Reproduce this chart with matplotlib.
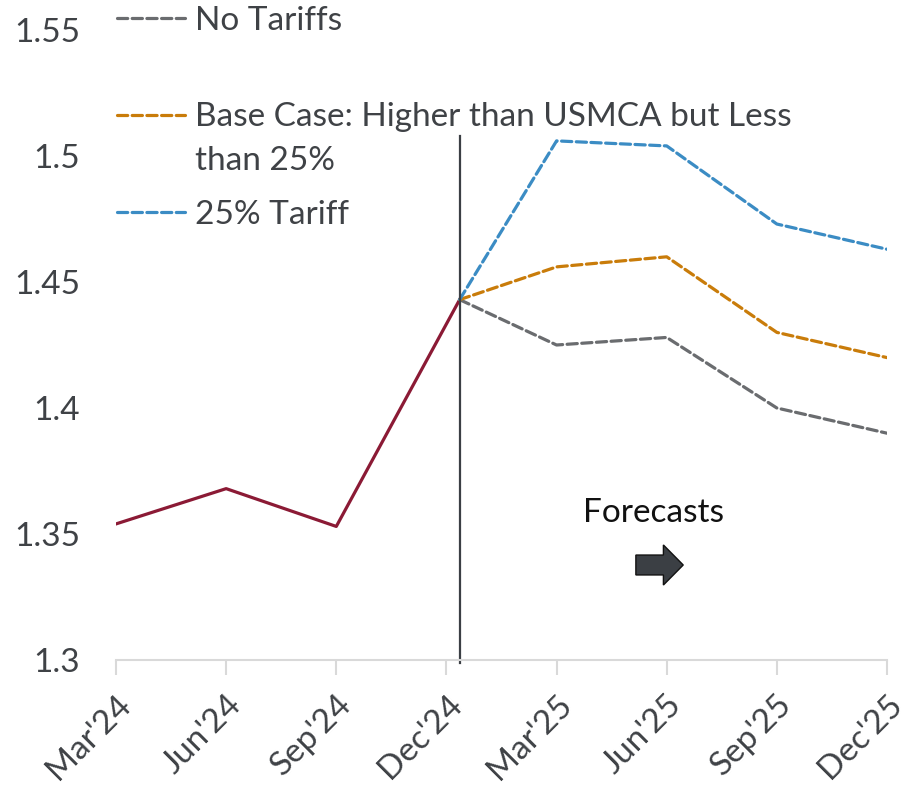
import matplotlib
matplotlib.use("Agg")
import matplotlib.pyplot as plt
import matplotlib.transforms as mtransforms
from matplotlib.patches import FancyArrow


quarters = ["Mar'24", "Jun'24", "Sep'24", "Dec'24", "Mar'25", "Jun'25", "Sep'25", "Dec'25"]
# Dec'24 sits a touch right of its tick in the original chart
quarter_pos = [0, 1, 2, 3.12, 4, 5, 6, 7]

actual = [1.354, 1.368, 1.353, 1.443]
no_tariffs = [1.443, 1.425, 1.428, 1.400, 1.390]
base_case = [1.443, 1.456, 1.460, 1.430, 1.420]
tariff_25 = [1.443, 1.506, 1.504, 1.473, 1.463]

y_ticks = [1.3, 1.35, 1.4, 1.45, 1.5, 1.55]
y_tick_labels = ["1.3", "1.35", "1.4", "1.45", "1.5", "1.55"]

scenario_labels = ["No Tariffs", "Base Case: Higher than USMCA but Less\nthan 25%", "25% Tariff"]

text_color = "#3f4246"
red = "#8b1a35"
grey = "#6a6c6f"
orange = "#c97c0a"
blue = "#3b8cc4"
scenario_colors = [grey, orange, blue]

plt.rcParams["font.family"] = ["Lato", "DejaVu Sans"]
FS = 24

W, H = 909, 793
fig = plt.figure(figsize=(W / 100, H / 100), dpi=100)
ax = fig.add_axes([116 / W, 1 - 660 / H, (887 - 116) / W, (660 - 30) / H])

dash = (3.2, 1.4)
ax.plot(quarter_pos[:4], actual, color=red, lw=2.3)
for vals, col in zip([no_tariffs, base_case, tariff_25], scenario_colors):
    ax.plot(quarter_pos[3:], vals, color=col, lw=2.3, dashes=dash, dash_capstyle="round")

# forecast divider
ax.plot([quarter_pos[3], quarter_pos[3]], [1.299, 1.508], color="#3b3f44", lw=1.6, clip_on=False)

ax.text(4.876, 1.3548, "Forecasts", fontsize=FS, color="#111111", ha="center", va="baseline")
ax.add_patch(FancyArrow(4.72, 1.3377, 0.43, 0, width=0.0079, head_width=0.0159,
                        head_length=0.18, length_includes_head=True,
                        facecolor="#3b3f44", edgecolor="#111111", lw=1.0))

ax.set_xlim(0, 7)
ax.set_ylim(1.3, 1.55)
ax.set_xticks(range(len(quarters)))
ax.set_xticklabels(quarters, rotation=45, ha="right", va="top", rotation_mode="anchor",
                   fontsize=FS, color=text_color)
shift = mtransforms.ScaledTranslation(-0.08, -0.05, fig.dpi_scale_trans)
for lab in ax.get_xticklabels():
    lab.set_transform(lab.get_transform() + shift)
ax.set_yticks(y_ticks)
ax.set_yticklabels(y_tick_labels, fontsize=FS, color=text_color)

ax.tick_params(axis="x", length=11, width=1.5, color="#d9d9d9", pad=10)
ax.tick_params(axis="y", length=0, pad=26)
for side in ["top", "right", "left"]:
    ax.spines[side].set_visible(False)
ax.spines["bottom"].set_color("#d9d9d9")
ax.spines["bottom"].set_linewidth(1.5)

# legend drawn by hand, Excel style with a gap under the first entry
legend_rows = [18, 115, 212]      # pixel rows of the first text line
for lab, col, row in zip(scenario_labels, scenario_colors, legend_rows):
    yf = 1 - row / H
    fig.add_artist(plt.Line2D([117 / W, 185 / W], [yf, yf], color=col, lw=2.3,
                              dashes=dash, dash_capstyle="round"))
    if "\n" in lab:
        fig.text(195 / W, 1 - (row - 13) / H, lab, fontsize=FS, color=text_color,
                 ha="left", va="top", linespacing=1.6)
    else:
        fig.text(195 / W, 1 - (row + 12) / H, lab, fontsize=FS, color=text_color,
                 ha="left", va="baseline")

fig.savefig("out.png", dpi=100)
